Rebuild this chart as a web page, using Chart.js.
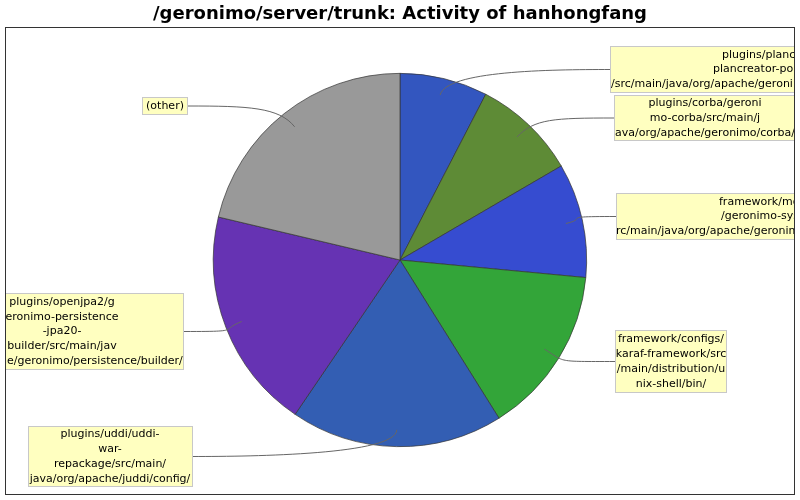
<!DOCTYPE html>
<html>
<head>
<meta charset="utf-8">
<script src="https://cdn.jsdelivr.net/npm/chart.js@4.4.1/dist/chart.umd.min.js"></script>
<style>
  html, body { margin: 0; padding: 0; background: #fff; }
  #wrap { width: 800px; height: 500px; }
</style>
</head>
<body>
<div id="wrap"><canvas id="pie" width="800" height="500"></canvas></div>
<script>
// ********************* data ***********************
const titleText = '/geronimo/server/trunk: Activity of hanhongfang';

const categories = [
    'plugins/plancreator/plancreator-portlets/src/main/java/org/apache/geronimo/',
    'plugins/corba/geronimo-corba/src/main/java/org/apache/geronimo/corba/',
    'framework/modules/geronimo-system/src/main/java/org/apache/geronimo/',
    'framework/configs/karaf-framework/src/main/distribution/unix-shell/bin/',
    'plugins/uddi/uddi-war-repackage/src/main/java/org/apache/juddi/config/',
    'plugins/openjpa2/geronimo-persistence-jpa20-builder/src/main/java/org/apache/geronimo/persistence/builder/',
    '(other)',
];

const activity = [7.6, 9.0, 9.9, 14.6, 18.4, 19.2, 21.3];

const sliceColors = ['#3356BF', '#5E8B36', '#364CD0', '#33A539', '#335EB3', '#6633B3', '#999999'];

// wrapped label text, one entry per slice
const labelLines = [
    ['plugins/plancreator/', 'plancreator-portlets', '/src/main/java/org/apache/geronimo/'],
    ['plugins/corba/geroni', 'mo-corba/src/main/j', 'ava/org/apache/geronimo/corba/'],
    ['framework/modules', '/geronimo-system/s', 'rc/main/java/org/apache/geronimo/'],
    ['framework/configs/', 'karaf-framework/src', '/main/distribution/u', 'nix-shell/bin/'],
    ['plugins/uddi/uddi-', 'war-', 'repackage/src/main/', 'java/org/apache/juddi/config/'],
    ['plugins/openjpa2/g', 'eronimo-persistence', '-jpa20-', 'builder/src/main/jav', 'a/org/apache/geronimo/persistence/builder/'],
    ['(other)'],
];

// ********************* label layout ***********************
// box: x, y, w, h ; side: which edge the leader ends on ; lineX: left start for clipped boxes
const labelBoxes = [
    { x: 610, y: 46, w: 260, h: 47, side: 'left', lineX: [722, 713, 611] },
    { x: 614, y: 95, w: 200, h: 46, side: 'left', cx: 705 },
    { x: 616, y: 193, w: 220, h: 47, side: 'left', lineX: [719, 721, 616] },
    { x: 615, y: 330, w: 112, h: 63, side: 'left', cx: 671 },
    { x: 28, y: 426, w: 165, h: 61, side: 'right', cx: 110 },
    { x: -70, y: 293, w: 254, h: 77, side: 'right', cx: 62 },
    { x: 142, y: 97, w: 46, h: 18, side: 'right', cx: 165 },
];

const plotRect = { x: 5, y: 27, w: 790, h: 468 };
const lineH = 14.8;

const labelPlugin = {
    id: 'pieLabels',
    beforeDraw(chart) {
        const ctx = chart.ctx;
        ctx.save();
        ctx.fillStyle = '#fff';
        ctx.fillRect(0, 0, chart.width, chart.height);
        ctx.fillStyle = '#000';
        ctx.font = 'bold 18px "DejaVu Sans"';
        ctx.textAlign = 'center';
        ctx.textBaseline = 'middle';
        ctx.fillText(titleText, 400, 14);
        ctx.restore();
    },
    afterDraw(chart) {
        const ctx = chart.ctx;
        const arcs = chart.getDatasetMeta(0).data;
        ctx.save();
        ctx.beginPath();
        ctx.rect(plotRect.x, plotRect.y, plotRect.w, plotRect.h);
        ctx.clip();

        // leader lines
        arcs.forEach((arc, i) => {
            const b = labelBoxes[i];
            const mid = (arc.startAngle + arc.endAngle) / 2;
            const r = arc.outerRadius * 0.91;
            const ax = arc.x + Math.cos(mid) * r;
            const ay = arc.y + Math.sin(mid) * r;
            const ex = b.side === 'left' ? b.x : b.x + b.w;
            const ey = b.y + b.h / 2;
            const dir = b.side === 'left' ? -1 : 1;
            ctx.beginPath();
            ctx.moveTo(ax, ay);
            ctx.bezierCurveTo(
                ax + Math.cos(mid) * 25, ay + Math.sin(mid) * 25,
                ex + dir * 60, ey,
                ex, ey);
            ctx.strokeStyle = '#666';
            ctx.lineWidth = 1;
            ctx.stroke();
        });

        // boxes and text
        ctx.font = '11px "DejaVu Sans"';
        ctx.textBaseline = 'middle';
        labelBoxes.forEach((b, i) => {
            ctx.fillStyle = '#FFFFC0';
            ctx.fillRect(b.x, b.y, b.w, b.h);
            ctx.strokeStyle = '#C8C8C8';
            ctx.lineWidth = 1;
            ctx.strokeRect(b.x + 0.5, b.y + 0.5, b.w - 1, b.h - 1);
            ctx.fillStyle = '#000';
            const lines = labelLines[i];
            const top = b.y + b.h / 2 - (lines.length - 1) * lineH / 2;
            lines.forEach((t, j) => {
                if (b.lineX) {
                    ctx.textAlign = 'left';
                    ctx.fillText(t, b.lineX[j], top + j * lineH);
                } else {
                    ctx.textAlign = 'center';
                    ctx.fillText(t, b.cx, top + j * lineH);
                }
            });
        });
        ctx.restore();

        // plot border
        ctx.save();
        ctx.strokeStyle = '#333';
        ctx.lineWidth = 1;
        ctx.strokeRect(plotRect.x + 0.5, plotRect.y + 0.5, plotRect.w - 1, plotRect.h - 1);
        ctx.restore();
    }
};

const pieData = {
    labels: categories,
    datasets: [{
      data: activity,
      backgroundColor: sliceColors,
      borderColor: '#333',
      borderWidth: 0.7,
    }]
};

const config = {
    type: 'pie',
    data: pieData,
    options: {
      responsive: false,
      animation: false,
      layout: { padding: { top: 73, bottom: 53, left: 213, right: 213 } },
      plugins: {
        legend: { display: false },
        title: { display: false },
        tooltip: { enabled: false },
      }
    },
    plugins: [labelPlugin]
};

const pie = new Chart(
    document.getElementById('pie'),
    config
);
</script>
</body>
</html>
